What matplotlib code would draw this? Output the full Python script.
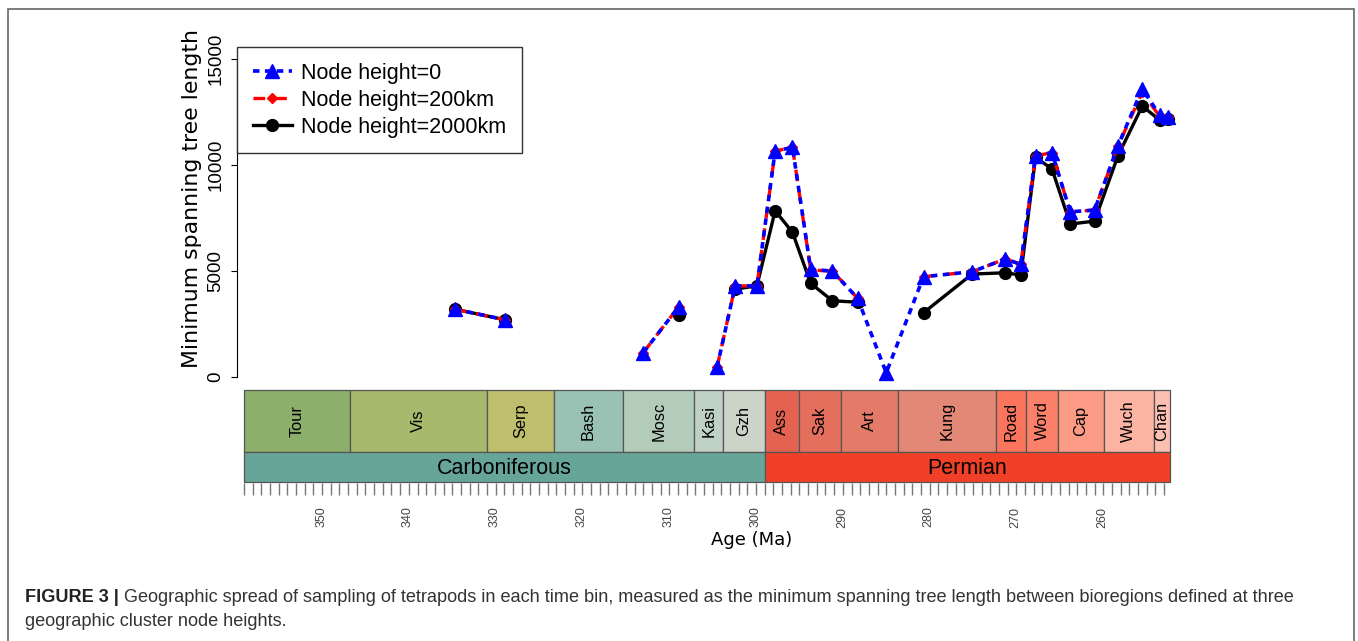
import numpy as np
import matplotlib
matplotlib.use("Agg")
import matplotlib.pyplot as plt
from matplotlib.patches import Rectangle

W, H = 1358, 641

# bin mid ages (Ma); nan = bin without data
ages = [334.6, 328.8, 318.0, 312.9, 308.8, 306.5, 304.4, 302.3, 299.8, 297.7, 295.7, 293.6, 291.1,
        288.2, 284.9, 280.6, 275.0, 271.2, 269.4, 267.7, 265.8, 263.7, 260.9, 258.2, 255.4, 253.4, 252.4]
nan = np.nan
mst_0 = [3200, 2700, nan, 1150, 3320, nan, 450, 4300, 4300, 10670, 10840, 5080, 5000,
         3715, 200, 4735, 4970, 5570, 5320, 10445, 10590, 7800, 7880, 10920, 13600, 12370, 12290]
mst_200 = [3200, 2700, nan, 1150, 3320, nan, 450, 4300, 4300, 10670, 10840, 5050, 5000,
           3715, nan, 4735, 4970, 5570, 5320, 10445, 10590, 7800, 7880, 10900, 13450, 12300, 12290]
mst_2000 = [3200, 2700, nan, nan, 2950, nan, nan, 4150, 4300, 7850, 6830, 4420, 3600,
            3530, nan, 3035, 4860, 4920, 4815, 10370, 9820, 7220, 7360, 10445, 12790, 12130, 12200]

stages = ["Tour", "Vis", "Serp", "Bash", "Mosc", "Kasi", "Gzh",
          "Ass", "Sak", "Art", "Kung", "Road", "Word", "Cap", "Wuch", "Chan"]
stage_base = [358.9, 346.7, 330.9, 323.2, 315.2, 307.0, 303.7,
              298.9, 295.0, 290.1, 283.5, 272.3, 268.8, 265.1, 259.8, 254.1]
stage_top = stage_base[1:] + [252.2]
stage_colors = ["#8CB06C", "#A6B96C", "#BFBE6C", "#99C2B5", "#B3CBB9", "#BFD0C5", "#CCD4C7",
                "#E36350", "#E36F5C", "#E37B68", "#E38776", "#FB745C", "#FB8069", "#FB9A85",
                "#FCB4A2", "#FCC0B2"]
periods = ["Carboniferous", "Permian"]
period_base = [358.9, 298.9]
period_top = [298.9, 252.2]
period_colors = ["#67A599", "#F04028"]


def px_box(x0, y0, x1, y1):
    return [x0 / W, 1 - y1 / H, (x1 - x0) / W, (y1 - y0) / H]


fig = plt.figure(figsize=(W / 100, H / 100), dpi=100)
xlim = (359.7, 251.4)

ax = fig.add_axes(px_box(237, 20, 1177, 390))
ax.plot(ages, mst_2000, color="black", lw=2.4, marker="o", ms=8.5, zorder=2,
        label="Node height=2000km")
ax.plot(ages, mst_200, color="red", lw=2.4, ls=(0, (3.5, 3)), marker="D", ms=5.5, zorder=3,
        label="Node height=200km")
ax.plot(ages, mst_0, color="blue", lw=2.6, ls=(0, (1.8, 1.5)), marker="^", ms=10, zorder=4,
        label="Node height=0")
ax.set_xlim(*xlim)
ax.set_ylim(-614, 16854)
for s in ["top", "right", "bottom"]:
    ax.spines[s].set_visible(False)
ax.spines["left"].set_bounds(0, 15000)
ax.set_xticks([])
ax.set_yticks([0, 5000, 10000, 15000])
ax.tick_params(axis="y", labelrotation=90, length=4, pad=5, labelsize=13.5)
for lab in ax.get_yticklabels():
    lab.set_family("Liberation Sans")
    lab.set_va("center")
fig.text(192 / W, 1 - 199 / H, "Minimum spanning tree length", rotation=90,
         ha="center", va="center", fontsize=15.8)

handles, labels = ax.get_legend_handles_labels()
leg = ax.legend(handles[::-1], labels[::-1], loc="upper left",
                bbox_to_anchor=(237 / W, 1 - 47 / H), bbox_transform=fig.transFigure,
                borderaxespad=0, fancybox=False, edgecolor="#333333", framealpha=1,
                prop={"family": "Liberation Sans", "size": 15.5},
                handlelength=1.8, handletextpad=0.45, borderpad=0.74, labelspacing=0.27)
leg.get_frame().set_linewidth(1.0)

# geological time scale
ts = fig.add_axes(px_box(237, 385, 1177, 560))
ts.set_xlim(*xlim)
ts.set_ylim(560, 385)
ts.axis("off")
for name, b, t, c in zip(stages, stage_base, stage_top, stage_colors):
    ts.add_patch(Rectangle((t, 390), b - t, 62, facecolor=c, edgecolor="#555555", lw=0.9))
    ts.text((b + t) / 2, 421, name, rotation=90, ha="center", va="center",
            fontsize=11.8, family="Liberation Sans")
for name, b, t, c in zip(periods, period_base, period_top, period_colors):
    ts.add_patch(Rectangle((t, 452), b - t, 30, facecolor=c, edgecolor="#555555", lw=0.9))
    ts.text((b + t) / 2, 468, name, ha="center", va="center",
            fontsize=15.5, family="Liberation Sans")
ruler = np.arange(stage_base[0], 252.2, -1.0)
ts.vlines(ruler, 483, 495, color="#777777", lw=1.0)
for a in range(350, 255, -10):
    ts.text(a, 517, str(a), rotation=90, ha="center", va="center", fontsize=9,
            color="#444444", family="Liberation Sans")
fig.text(752 / W, 1 - 540 / H, "Age (Ma)", ha="center", va="center", fontsize=13)

# page frame and caption
fig.patches.append(Rectangle((8 / W, -0.1), 1346 / W, 1.1 - 9 / H, transform=fig.transFigure,
                             fill=False, edgecolor="#666666", lw=1.2))
renderer = fig.canvas.get_renderer()
t1 = fig.text(25 / W, 1 - 598 / H, "FIGURE 3 |", ha="left", va="center", fontsize=13.1,
              family="Liberation Sans", weight="bold", color="#222222")
bb = t1.get_window_extent(renderer)
fig.text((bb.x1 + 5) / W, 1 - 598 / H,
         "Geographic spread of sampling of tetrapods in each time bin, measured as the minimum "
         "spanning tree length between bioregions defined at three",
         ha="left", va="center", fontsize=13.1, family="Liberation Sans", color="#333333")
fig.text(25 / W, 1 - 622 / H, "geographic cluster node heights.", ha="left", va="center",
         fontsize=13.1, family="Liberation Sans", color="#333333")

fig.savefig("out.png", dpi=100)
